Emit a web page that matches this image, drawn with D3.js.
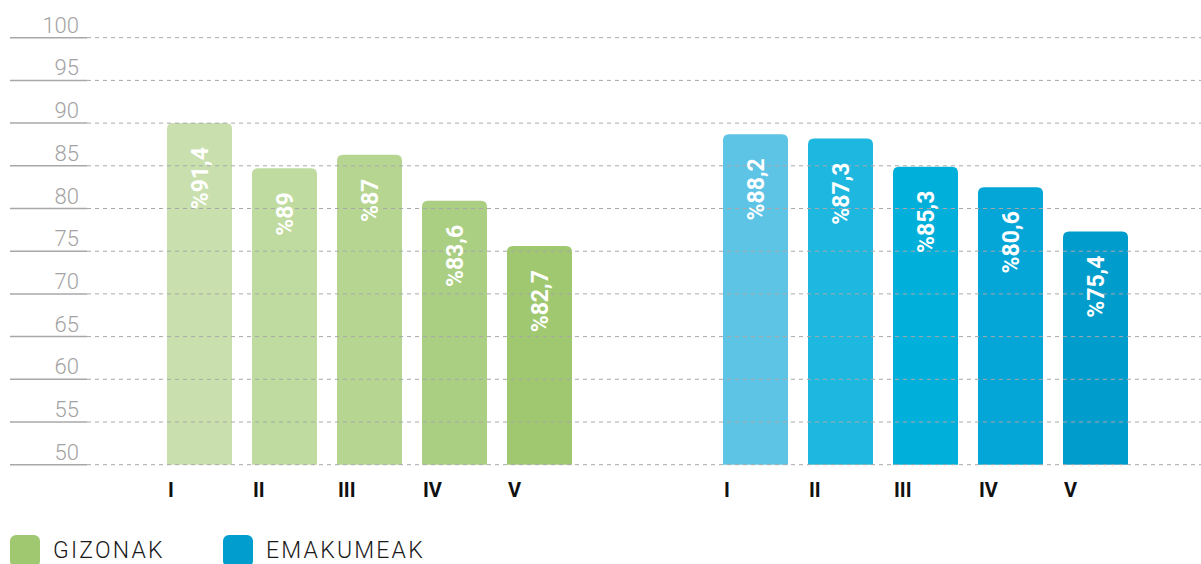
<!DOCTYPE html>
<html>
<head>
<meta charset="utf-8">
<script src="https://cdn.jsdelivr.net/npm/d3@7/dist/d3.min.js"></script>
<style>
html,body{margin:0;padding:0;background:#fff;}
svg{display:block;}
</style>
</head>
<body>
<svg id="chart" width="1201" height="564"></svg>
<script>
// ---- data ----
const categories = ["I", "II", "III", "IV", "V"];
const menValues = [90.0, 84.7, 86.3, 80.9, 75.6];      // bar heights as drawn
const menLabels = ["%91,4", "%89", "%87", "%83,6", "%82,7"];
const womenValues = [88.7, 88.2, 84.9, 82.5, 77.3];
const womenLabels = ["%88,2", "%87,3", "%85,3", "%80,6", "%75,4"];
const yTicks = [50, 55, 60, 65, 70, 75, 80, 85, 90, 95, 100];
const seriesNames = ["GIZONAK", "EMAKUMEAK"];
const menColors = ["#c9dfad", "#bfdb9f", "#b5d590", "#aacf82", "#9fc870"];
const womenColors = ["#5ec4e6", "#1eb7e0", "#00b0db", "#03a6d7", "#009dcc"];
const legendColors = ["#9fc870", "#019dcf"];

const svg = d3.select("#chart");
const y = d3.scaleLinear().domain([50, 100]).range([464.7, 37.7]);

const xMen = d3.scaleBand().domain(categories).range([157, 582])
  .paddingInner(20 / 85).paddingOuter(10 / 85);
const xWomen = d3.scaleBand().domain(categories).range([713, 1138])
  .paddingInner(20 / 85).paddingOuter(10 / 85);

function topRounded(x, yTop, w, h, r) {
  return `M${x},${yTop + h}V${yTop + r}Q${x},${yTop} ${x + r},${yTop}H${x + w - r}Q${x + w},${yTop} ${x + w},${yTop + r}V${yTop + h}Z`;
}

function drawGroup(xs, values, colors) {
  const g = svg.append("g");
  g.selectAll("path.bar").data(categories).join("path")
    .attr("class", "bar")
    .attr("fill", (d, i) => colors[i])
    .attr("d", (d, i) => topRounded(xs(d), y(values[i]), xs.bandwidth(), y(50) - y(values[i]), 6));
  return g;
}
drawGroup(xMen, menValues, menColors);
drawGroup(xWomen, womenValues, womenColors);

// grid lines (drawn over bars)
const grid = svg.append("g");
grid.selectAll("line.dash").data(yTicks).join("line")
  .attr("x1", 87).attr("x2", 1201)
  .attr("y1", d => y(d)).attr("y2", d => y(d))
  .attr("stroke", "#a8a8a8").attr("stroke-width", 1)
  .attr("stroke-dasharray", "4,4");
grid.selectAll("line.solid").data(yTicks).join("line")
  .attr("x1", 10).attr("x2", 87)
  .attr("y1", d => y(d)).attr("y2", d => y(d))
  .attr("stroke", "#a8a8a8").attr("stroke-width", 1.5);
grid.selectAll("text").data(yTicks).join("text")
  .attr("x", 79).attr("y", d => y(d) - 5)
  .attr("text-anchor", "end")
  .attr("font-family", "Roboto, sans-serif")
  .attr("font-weight", 300)
  .attr("font-size", 22)
  .attr("fill", "#a3a3a3")
  .text(d => d);

// value labels
function drawLabels(xs, values, labels) {
  svg.append("g").selectAll("text").data(categories).join("text")
    .attr("transform", (d, i) => `translate(${xs(d) + xs.bandwidth() / 2 + 8},${y(values[i]) + 24}) rotate(-90)`)
    .attr("text-anchor", "end")
    .attr("font-family", "Roboto, sans-serif")
    .attr("font-weight", 700)
    .attr("font-size", 23)
    .attr("fill", "#ffffff")
    .text((d, i) => labels[i]);
}
drawLabels(xMen, menValues, menLabels);
drawLabels(xWomen, womenValues, womenLabels);

// category labels
function drawCats(xs) {
  svg.append("g").selectAll("text").data(categories).join("text")
    .attr("x", d => xs(d) + 1).attr("y", 497)
    .attr("font-family", "Roboto, sans-serif")
    .attr("font-weight", 700)
    .attr("font-size", 20)
    .attr("fill", "#111")
    .text(d => d);
}
drawCats(xMen);
drawCats(xWomen);

// legend
const legX = [10, 223];
const leg = svg.append("g");
seriesNames.forEach((name, i) => {
  leg.append("rect").attr("x", legX[i]).attr("y", 535).attr("width", 30).attr("height", 32)
    .attr("rx", 6).attr("fill", legendColors[i]);
  leg.append("text").attr("x", legX[i] + 43).attr("y", 557.5)
    .attr("font-family", "Roboto, sans-serif")
    .attr("font-weight", 300)
    .attr("font-size", 23)
    .attr("letter-spacing", 2.2)
    .attr("fill", "#1a1a1a")
    .text(name);
});
</script>
</body>
</html>
